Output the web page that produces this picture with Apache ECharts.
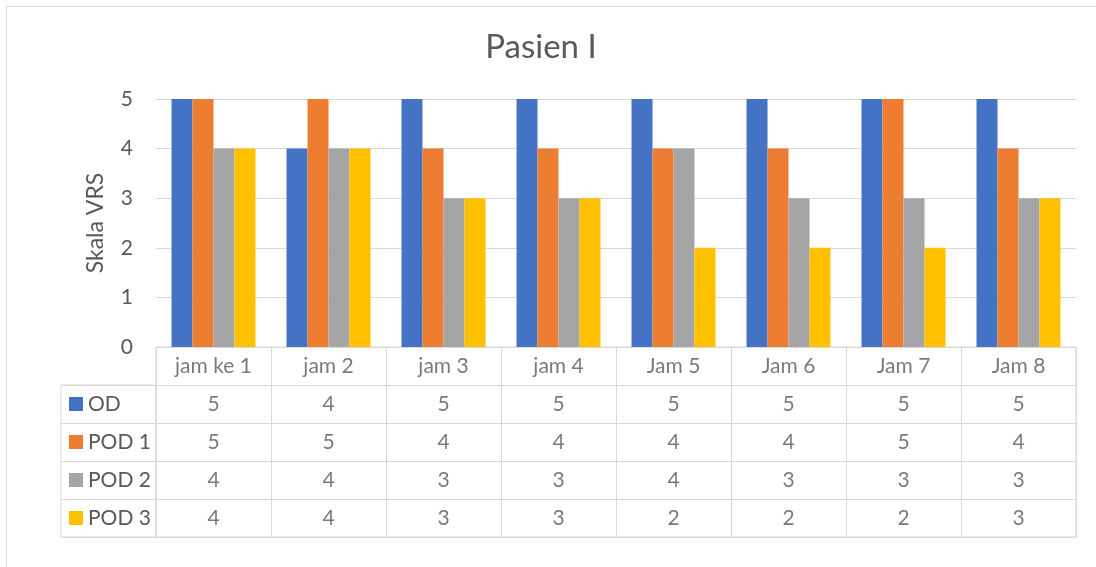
<!DOCTYPE html>
<html>
<head>
<meta charset="utf-8">
<script src="https://cdn.jsdelivr.net/npm/echarts@6/dist/echarts.min.js"></script>
<style>
html,body{margin:0;padding:0;background:#fff;overflow:hidden;}
#wrap{position:relative;width:1096px;height:567px;overflow:hidden;}
#chart{position:absolute;left:0;top:0;width:1096px;height:567px;}
#frame{position:absolute;left:6px;top:6px;width:1200px;height:700px;border:1px solid #D9D9D9;pointer-events:none;}
</style>
</head>
<body>
<div id="wrap"><div id="chart"></div><div id="frame"></div></div>
<script>
const categories = ['jam ke 1', 'jam 2', 'jam 3', 'jam 4', 'Jam 5', 'Jam 6', 'Jam 7', 'Jam 8'];
const seriesNames = ['OD', 'POD 1', 'POD 2', 'POD 3'];
const od   = [5, 4, 5, 5, 5, 5, 5, 5];
const pod1 = [5, 5, 4, 4, 4, 4, 5, 4];
const pod2 = [4, 4, 3, 3, 4, 3, 3, 3];
const pod3 = [4, 4, 3, 3, 2, 2, 2, 3];
const yMin = 0, yMax = 5, yStep = 1;

const colors = ['#4472C4', '#ED7D31', '#A5A5A5', '#FFC000'];
const values = [od, pod1, pod2, pod3];
const FONT = 'Lato';
const TXT = '#595959';
const LINE = '#D9D9D9';
const FS = 21;

const tableData = [];
categories.forEach((c, i) => tableData.push([i, 0, c]));
values.forEach((arr, r) => arr.forEach((v, i) => tableData.push([i, r + 1, String(v)])));

const rich = {};
colors.forEach((c, i) => { rich['c' + i] = { width: 14, height: 14, backgroundColor: c }; });
rich.t = { fontFamily: FONT, fontSize: FS, color: TXT, padding: [0, 0, 0, 5] };

const chart = echarts.init(document.getElementById('chart'), null, { renderer: 'canvas' });
chart.setOption({
  animation: false,
  backgroundColor: '#fff',
  color: colors,
  title: {
    text: 'Pasien I',
    left: 536, top: 26, textAlign: 'center',
    textStyle: { fontFamily: FONT, fontSize: 33, fontWeight: 'normal', color: TXT }
  },
  grid: [
    { left: 156, top: 99, width: 920, height: 248 },
    { left: 156, top: 347, width: 920, height: 190, show: true, borderColor: LINE, borderWidth: 1 },
    { left: 61, top: 385, width: 95, height: 152, show: true, borderColor: LINE, borderWidth: 1 }
  ],
  xAxis: [
    { type: 'category', gridIndex: 0, data: categories,
      axisLine: { show: true, lineStyle: { color: LINE, width: 1 } },
      axisTick: { show: false }, axisLabel: { show: false }, splitLine: { show: false } },
    { type: 'category', gridIndex: 1, data: categories,
      axisLine: { show: false }, axisTick: { show: false }, axisLabel: { show: false },
      splitLine: { show: true, interval: 0, lineStyle: { color: LINE, width: 1 } } },
    { type: 'category', gridIndex: 2, data: ['x'], show: false }
  ],
  yAxis: [
    { type: 'value', gridIndex: 0, min: yMin, max: yMax, interval: yStep,
      axisLine: { show: false }, axisTick: { show: false },
      axisLabel: { color: TXT, fontFamily: FONT, fontSize: FS, margin: 23 },
      splitLine: { show: true, lineStyle: { color: LINE, width: 1 } },
      name: 'Skala VRS', nameLocation: 'middle', nameGap: 49,
      nameTextStyle: { color: TXT, fontFamily: FONT, fontSize: 23 } },
    { type: 'category', gridIndex: 1, inverse: true, data: [''].concat(seriesNames),
      axisLine: { show: false }, axisTick: { show: false }, axisLabel: { show: false },
      splitLine: { show: true, interval: 0, lineStyle: { color: LINE, width: 1 } } },
    { type: 'category', gridIndex: 2, inverse: true, data: seriesNames,
      axisLine: { show: false }, axisTick: { show: false },
      axisLabel: { inside: true, margin: 8, interval: 0,
        formatter: (v, i) => '{c' + i + '|}{t|' + v + '}', rich: rich },
      splitLine: { show: true, interval: 0, lineStyle: { color: LINE, width: 1 } } }
  ],
  series: seriesNames.map((n, k) => ({
    name: n, type: 'bar', xAxisIndex: 0, yAxisIndex: 0,
    data: values[k], barGap: '0%', barCategoryGap: '27%',
    itemStyle: { color: colors[k] }
  })).concat([{
    type: 'scatter', xAxisIndex: 1, yAxisIndex: 1, silent: true,
    symbolSize: 1, itemStyle: { color: 'rgba(0,0,0,0)' },
    data: tableData,
    label: { show: true, position: 'inside', formatter: p => p.value[2],
      fontFamily: FONT, fontSize: FS, color: TXT }
  }])
});
</script>
</body>
</html>
